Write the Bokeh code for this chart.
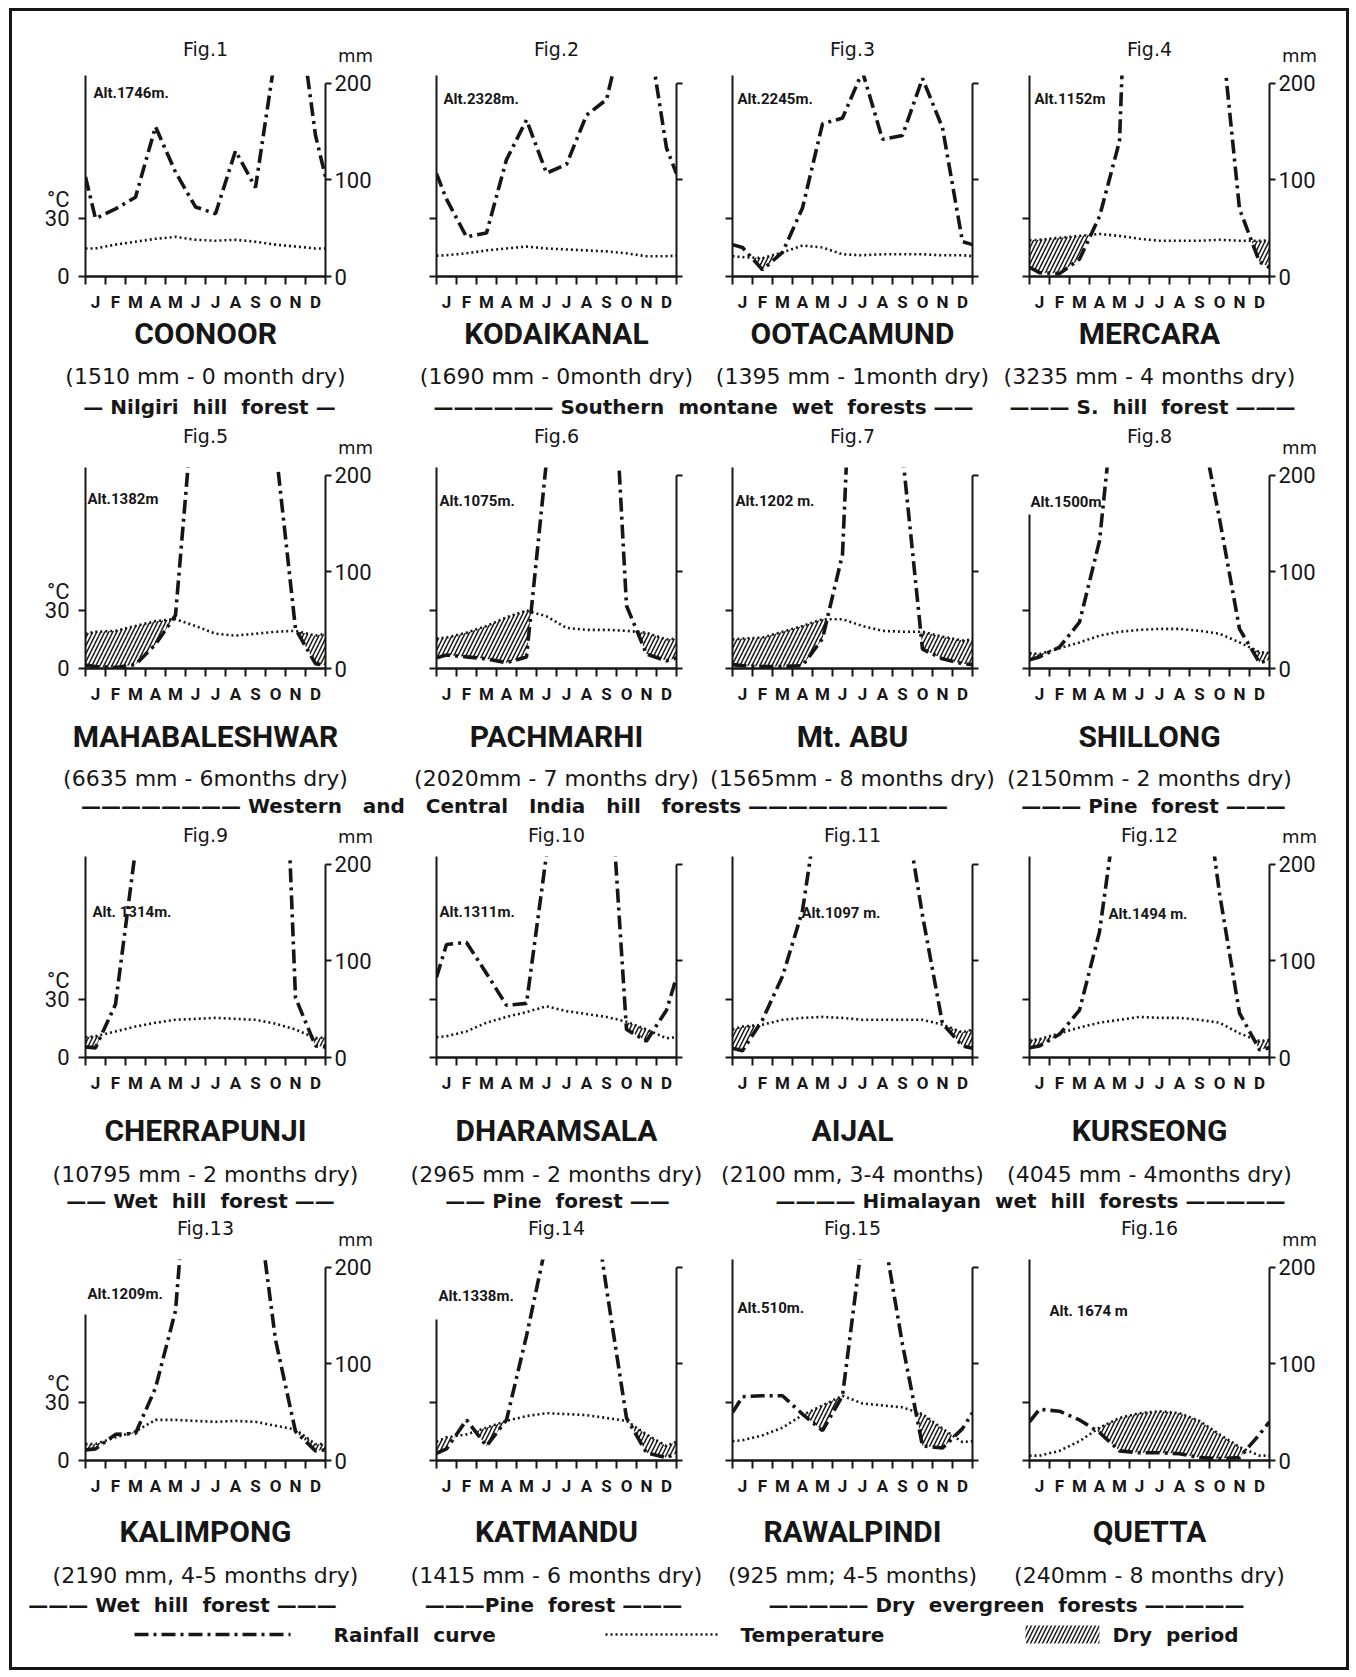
import numpy as np
from bokeh.plotting import figure
from bokeh.models import Range1d, LinearAxis, FixedTicker, Label, Spacer
from bokeh.layouts import column, row
from bokeh.embed import file_html
from bokeh.resources import INLINE
from bokeh.core.properties import value

# ---------------- data ----------------
months = ["J", "F", "M", "A", "M", "J", "J", "A", "S", "O", "N", "D"]
fig_labels = ["Fig.%d" % n for n in range(1, 17)]
stations = ["COONOOR", "KODAIKANAL", "OOTACAMUND", "MERCARA",
            "MAHABALESHWAR", "PACHMARHI", "Mt. ABU", "SHILLONG",
            "CHERRAPUNJI", "DHARAMSALA", "AIJAL", "KURSEONG",
            "KALIMPONG", "KATMANDU", "RAWALPINDI", "QUETTA"]
altitudes = ["Alt.1746m.", "Alt.2328m.", "Alt.2245m.", "Alt.1152m",
             "Alt.1382m", "Alt.1075m.", "Alt.1202 m.", "Alt.1500m",
             "Alt. 1314m.", "Alt.1311m.", "Alt.1097 m.", "Alt.1494 m.",
             "Alt.1209m.", "Alt.1338m.", "Alt.510m.", "Alt. 1674 m"]
captions = ["(1510 mm - 0 month dry)", "(1690 mm - 0month dry)",
            "(1395 mm - 1month dry)", "(3235 mm - 4 months dry)",
            "(6635 mm - 6months dry)", "(2020mm - 7 months dry)",
            "(1565mm - 8 months dry)", "(2150mm - 2 months dry)",
            "(10795 mm - 2 months dry)", "(2965 mm - 2 months dry)",
            "(2100 mm, 3-4 months)", "(4045 mm - 4months dry)",
            "(2190 mm, 4-5 months dry)", "(1415 mm - 6 months dry)",
            "(925 mm; 4-5 months)", "(240mm - 8 months dry)"]

# monthly rainfall (mm) and mean temperature (deg C)
rain_coonoor = [60, 70, 82, 155, 108, 72, 65, 130, 92, 230, 300, 146]
temp_coonoor = [14.5, 16.5, 18, 19.5, 20.5, 19, 18.5, 19, 18, 16.5, 15.5, 14.5]
rain_kodaikanal = [80, 41, 45, 121, 162, 107, 116, 167, 183, 270, 265, 133]
temp_kodaikanal = [11, 12, 13.5, 14.5, 15.5, 14.5, 14, 13.5, 13, 12, 10.5, 10.5]
rain_ootacamund = [30, 7, 25, 71, 158, 164, 212, 142, 146, 205, 154, 36]
temp_ootacamund = [10, 9.5, 12.5, 16, 15, 11.5, 11, 11.5, 11.5, 11.5, 11, 11]
rain_mercara = [4, 3, 18, 62, 140, 700, 950, 650, 300, 274, 70, 15]
temp_mercara = [19, 20, 21, 22, 21, 19.5, 18.5, 18.5, 18.5, 19, 18.5, 18.5]
rain_mahabaleshwar = [2, 1, 4, 25, 55, 300, 2500, 1500, 700, 230, 41, 5]
temp_mahabaleshwar = [19, 19.5, 22, 24.5, 25.5, 22, 18, 17, 18, 19, 19.5, 17]
rain_pachmarhi = [14, 12, 10, 6, 12, 215, 700, 500, 450, 65, 15, 8]
temp_pachmarhi = [16, 18.5, 22, 26.5, 30, 27, 21, 20, 20, 19.5, 18.5, 15]
rain_mtabu = [3, 2, 2, 3, 31, 118, 600, 550, 222, 20, 10, 5]
temp_mtabu = [15.5, 16, 19, 22, 25.5, 25.5, 22, 19.5, 19, 19, 16.5, 14.5]
rain_shillong = [12, 22, 48, 132, 332, 420, 400, 330, 261, 155, 41, 6]
temp_shillong = [7.5, 10.5, 13.5, 17, 19, 20, 20.5, 20.5, 19.5, 18, 13.5, 8.5]
rain_cherrapunji = [10, 55, 215, 650, 1200, 2500, 2500, 1800, 1100, 584, 62, 12]
temp_cherrapunji = [11, 13.5, 16, 18, 19.5, 20, 20.5, 20, 19.5, 17.5, 14.5, 10]
rain_dharamsala = [117, 119, 87, 54, 56, 210, 1000, 900, 350, 29, 17, 49]
temp_dharamsala = [11, 13.5, 18, 21, 23.5, 26.5, 24, 22.5, 21, 18.5, 14.5, 10]
rain_aijal = [7, 39, 84, 152, 291, 350, 330, 380, 274, 147, 35, 12]
temp_aijal = [16, 17, 19.5, 20.5, 21, 20.5, 19.5, 19.5, 19.5, 19.5, 17, 13]
rain_kurseong = [12, 24, 49, 130, 280, 850, 1200, 953, 323, 170, 46, 8]
temp_kurseong = [9.5, 12.5, 15.5, 18, 19.5, 21, 20.5, 20.5, 19.5, 18, 12.5, 8.5]
rain_kalimpong = [12, 27, 28, 75, 155, 410, 600, 450, 284, 125, 30, 10]
temp_kalimpong = [8.5, 12, 15, 21, 21, 20.5, 20, 20.5, 20, 18, 16, 8.5]
rain_katmandu = [12, 42, 15, 42, 129, 226, 375, 320, 178, 44, 8, 3]
temp_katmandu = [12, 13.5, 17, 20.5, 23, 24.5, 24, 23.5, 22, 20.5, 13.5, 7.5]
rain_rawalpindi = [66, 67, 67, 48, 31, 67, 230, 242, 120, 15, 13, 33]
temp_rawalpindi = [10.5, 13, 17, 23.5, 28.5, 33.5, 29.5, 28.5, 27.5, 24, 16.5, 9.5]
rain_quetta = [53, 51, 42, 29, 10, 8, 8, 7, 3, 2, 3, 27]
temp_quetta = [2.5, 5, 10, 17, 22, 24.5, 25.5, 24.5, 20.5, 13.5, 7, 2.5]

rain_series = [rain_coonoor, rain_kodaikanal, rain_ootacamund, rain_mercara,
               rain_mahabaleshwar, rain_pachmarhi, rain_mtabu, rain_shillong,
               rain_cherrapunji, rain_dharamsala, rain_aijal, rain_kurseong,
               rain_kalimpong, rain_katmandu, rain_rawalpindi, rain_quetta]
temp_series = [temp_coonoor, temp_kodaikanal, temp_ootacamund, temp_mercara,
               temp_mahabaleshwar, temp_pachmarhi, temp_mtabu, temp_shillong,
               temp_cherrapunji, temp_dharamsala, temp_aijal, temp_kurseong,
               temp_kalimpong, temp_katmandu, temp_rawalpindi, temp_quetta]

rain_ticks = [0, 100, 200]
temp_ticks = [0, 30]
temp_unit_tick = 40          # where the "°C" unit label sits on the temperature axis

D = "\u2014"
forest_texts = [
    [D + " Nilgiri  hill  forest " + D,
     D * 6 + " Southern  montane  wet  forests " + D * 2,
     D * 3 + " S.  hill  forest " + D * 3],
    [D * 8 + " Western   and   Central   India   hill   forests " + D * 10,
     D * 3 + " Pine  forest " + D * 3],
    [D * 2 + " Wet  hill  forest " + D * 2,
     D * 2 + " Pine  forest " + D * 2,
     D * 4 + " Himalayan  wet  hill  forests " + D * 5],
    [D * 3 + " Wet  hill  forest " + D * 3,
     D * 3 + "Pine  forest " + D * 3,
     D * 5 + " Dry  evergreen  forests " + D * 5],
]
legend_labels = ["Rainfall  curve", "Temperature", "Dry  period"]

# ---------------- layout / style ----------------
FONT = "Roboto"
FONT2 = "DejaVu Sans"
INK = "#161616"
YTOP = 208
FW, FH = 240, 201
COL_BORDERS = [(73, 56), (55, 28), (28, 29), (28, 77)]
PT = 8            # panel top border
BOTTOM = 38
HEADER_H = 56
HEAD_Y = [(37, 44), (121, 133), (128, 130), (132, 144)]   # (Fig.N, mm) per panel row
STRIP_H = [145, 142, 156, 169]
STRIP_Y = [(19, 62, 92), (30, 72, 99), (35, 79, 105), (33, 77, 106)]
LEGEND_Y = 136
FOREST_X = [[197, 691, 1140], [502, 1141], [188, 545, 1018], [170, 541, 994]]
LEGEND_SAMPLES = [(122, 278), (593, 706), (1013, 1087)]
LEGEND_TEXT_X = [321, 728, 1100]
ALT_POS = [(0.4, 190), (0.35, 184), (0.25, 184), (0.25, 184),
           (0.1, 175), (0.15, 173), (0.15, 173), (0.05, 172),
           (0.35, 151), (0.15, 151), (3.45, 150), (3.95, 148),
           (0.1, 172), (0.1, 170), (0.25, 158), (1.0, 155)]
LEFT_AXIS_TOP = [208, 208, 208, 208, 208, 208, 208, 159,
                 208, 208, 208, 208, 151, 146, 208, 208]
RAIN_DASH = "14 5 3 5"
TEMP_DASH = "2 3"
TOTAL_W = sum(l + FW + r for l, r in COL_BORDERS)

col_starts = np.cumsum([0] + [l + FW + r for l, r in COL_BORDERS])[:4]
frame_centers = [float(col_starts[c] + COL_BORDERS[c][0] + FW / 2) for c in range(4)]
frame_rights = [float(col_starts[c] + COL_BORDERS[c][0] + FW) for c in range(4)]


def nb(s):
    return s.replace("  ", " \u00a0")


def wrap(a):
    a = np.asarray(a, dtype=float)
    edge = (a[0] + a[-1]) / 2.0
    return np.concatenate([[edge], a, [edge]])


def style_axis(ax, size="22px"):
    ax.axis_line_color = INK
    ax.axis_line_width = 2
    ax.major_tick_line_color = INK
    ax.major_tick_line_width = 2
    ax.minor_tick_line_color = INK
    ax.minor_tick_line_width = 2
    ax.major_label_text_font = FONT
    ax.major_label_text_font_size = size
    ax.major_label_text_color = INK


def panel(i, col):
    L, R = COL_BORDERS[col]
    p = figure(width=L + FW + R, height=PT + FH + BOTTOM,
               x_range=Range1d(0, 12), y_range=Range1d(0, YTOP),
               x_axis_location="below", y_axis_location=None,
               output_backend="svg", toolbar_location=None,
               min_border_left=L, min_border_right=R,
               min_border_top=PT, min_border_bottom=BOTTOM)
    p.extra_y_ranges = {"temp": Range1d(0, YTOP / 2.0)}
    p.xgrid.visible = False
    p.ygrid.visible = False
    p.outline_line_color = None
    p.background_fill_color = "white"
    p.border_fill_color = "white"

    # month axis
    xa = p.xaxis[0]
    centers = [k + 0.5 for k in range(12)]
    xa.ticker = FixedTicker(ticks=centers, minor_ticks=list(range(13)))
    xa.major_label_overrides = {c: m for c, m in zip(centers, months)}
    style_axis(xa, "17px")
    xa.major_label_text_font_style = "bold"
    xa.major_tick_in = 0
    xa.major_tick_out = 0
    xa.minor_tick_in = 0
    xa.minor_tick_out = 8
    xa.major_label_standoff = 7
    xa.axis_line_width = 2.5

    show_labels = col in (0, 3)
    # temperature axis (left): tick marks drawn as minor ticks, labels on major ticks
    la = LinearAxis(y_range_name="temp",
                    ticker=FixedTicker(ticks=temp_ticks + [temp_unit_tick],
                                       minor_ticks=temp_ticks),
                    bounds=(0, LEFT_AXIS_TOP[i] / 2.0))
    style_axis(la)
    la.major_tick_in = 0
    la.major_tick_out = 0
    la.minor_tick_in = 0
    la.minor_tick_out = 7
    la.major_label_standoff = 9
    if col == 0:
        ov = {t: str(t) for t in temp_ticks}
        ov[temp_unit_tick] = "\u00b0C"
    else:
        ov = {t: "" for t in temp_ticks + [temp_unit_tick]}
    la.major_label_overrides = ov
    p.add_layout(la, "left")

    # rainfall axis (right)
    ra = LinearAxis(ticker=FixedTicker(ticks=rain_ticks), bounds=(0, 200))
    style_axis(ra)
    ra.major_tick_in = 0
    ra.major_tick_out = 6
    ra.major_label_standoff = 3
    if show_labels:
        ra.major_label_overrides = {t: str(t) for t in rain_ticks}
    else:
        ra.major_label_overrides = {t: "" for t in rain_ticks}
    p.add_layout(ra, "right")

    # curves
    xs = np.concatenate([[0.0], np.arange(12) + 0.5, [12.0]])
    rain = wrap(rain_series[i])
    temp = wrap(temp_series[i])
    xf = np.linspace(0, 12, 1441)
    rf = np.interp(xf, xs, rain) / 2.0
    tf = np.interp(xf, xs, temp)
    p.varea(x=xf, y1=np.minimum(rf, tf), y2=tf, y_range_name="temp",
            fill_color=None, hatch_pattern="/", hatch_color=INK,
            hatch_weight=1.5, hatch_scale=8)
    p.line(xs, temp, y_range_name="temp", line_color=INK, line_width=2.6,
           line_dash=TEMP_DASH)
    p.line(xs, rain, line_color=INK, line_width=3.6, line_dash=RAIN_DASH)

    ax_, ay_ = ALT_POS[i]
    p.add_layout(Label(x=ax_, y=ay_, text=altitudes[i], text_align="left",
                       text_baseline="middle", text_font=FONT,
                       text_font_size="15px", text_font_style="bold",
                       text_color=INK))
    return p


def base_strip(H):
    s = figure(width=TOTAL_W, height=H, x_range=Range1d(0, TOTAL_W),
               y_range=Range1d(H, 0), x_axis_location=None,
               y_axis_location=None, output_backend="svg",
               toolbar_location=None, min_border=0)
    s.xgrid.visible = False
    s.ygrid.visible = False
    s.outline_line_color = None
    s.background_fill_color = "white"
    s.border_fill_color = "white"
    return s


def add_heads(s, r):
    # "Fig.N" titles and "mm" unit labels for panel row r, at the bottom of strip s
    fy, my = HEAD_Y[r]
    idx = list(range(4 * r, 4 * r + 4))
    s.text(x=frame_centers, y=[fy] * 4, text=[fig_labels[k] for k in idx],
           text_align="center", text_baseline="middle",
           text_font=value(FONT2), text_font_size=value("19px"),
           text_color=INK)
    s.text(x=[frame_rights[0] + 30, frame_rights[3] + 30], y=[my] * 2,
           text=["mm", "mm"], text_align="center", text_baseline="middle",
           text_font=value(FONT2), text_font_size=value("18px"),
           text_color=INK)


def strip(r):
    H = STRIP_H[r]
    s = base_strip(H)
    ny, cy, fy = STRIP_Y[r]
    idx = list(range(4 * r, 4 * r + 4))
    s.text(x=frame_centers, y=[ny] * 4, text=[stations[k] for k in idx],
           text_align="center", text_baseline="middle",
           text_font=value(FONT), text_font_size=value("30px"),
           text_font_style="bold", text_color=INK)
    s.text(x=frame_centers, y=[cy] * 4, text=[captions[k] for k in idx],
           text_align="center", text_baseline="middle",
           text_font=value(FONT2), text_font_size=value("22px"),
           text_color=INK)
    s.text(x=FOREST_X[r], y=[fy] * len(FOREST_X[r]),
           text=[nb(t) for t in forest_texts[r]],
           text_align="center", text_baseline="middle",
           text_font=value(FONT2), text_font_size=value("20px"),
           text_font_style="bold", text_color=INK)
    if r < 3:
        add_heads(s, r + 1)
    else:
        (a0, a1), (b0, b1), (c0, c1) = LEGEND_SAMPLES
        s.line(x=[a0, a1], y=[LEGEND_Y, LEGEND_Y], line_color=INK,
               line_width=3.6, line_dash=RAIN_DASH)
        s.line(x=[b0, b1], y=[LEGEND_Y, LEGEND_Y], line_color=INK,
               line_width=2.6, line_dash=TEMP_DASH)
        s.quad(left=[c0], right=[c1], top=[LEGEND_Y - 9],
               bottom=[LEGEND_Y + 9], fill_color=None, line_color=None,
               hatch_pattern="/", hatch_color=INK, hatch_weight=1.5,
               hatch_scale=8)
        s.text(x=LEGEND_TEXT_X, y=[LEGEND_Y] * 3,
               text=[nb(t) for t in legend_labels], text_align="left",
               text_baseline="middle", text_font=value(FONT2),
               text_font_size=value("20px"), text_font_style="bold",
               text_color=INK)
    return s


header = base_strip(HEADER_H)
add_heads(header, 0)

children = [header]
for r in range(4):
    children.append(row([panel(4 * r + c, c) for c in range(4)]))
    children.append(strip(r))

page = column(children, styles={"border": "3px solid #161616",
                                "background-color": "white"})
root = row([Spacer(width=9, height=8),
            column([Spacer(width=8, height=8), page])])

open("out.html", "w").write(file_html(root, INLINE))
